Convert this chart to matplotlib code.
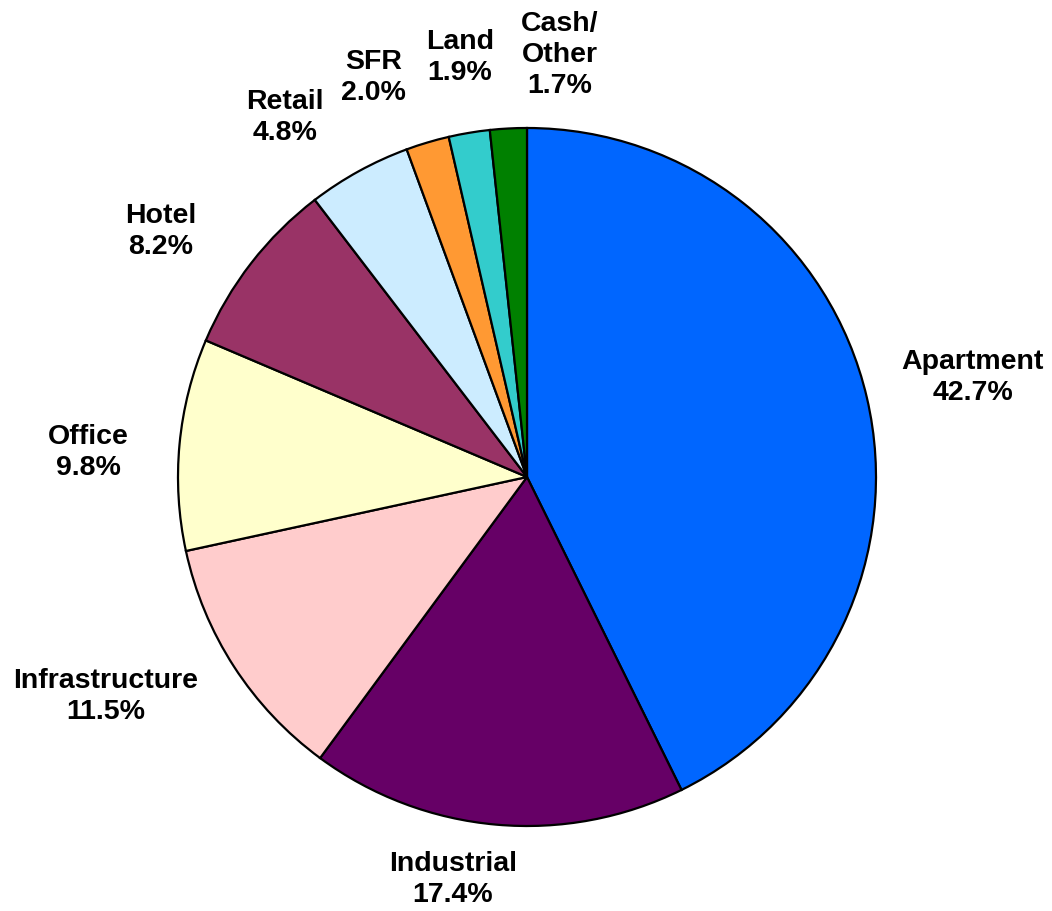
import matplotlib.pyplot as plt
import numpy as np

plt.rcParams['font.family'] = ['Liberation Sans', 'DejaVu Sans']

categories = ["Apartment", "Industrial", "Infrastructure", "Office", "Hotel",
              "Retail", "SFR", "Land", "Cash/\nOther"]
shares = [42.7, 17.4, 11.5, 9.8, 8.2, 4.8, 2.0, 1.9, 1.7]
colors = ["#0066FF", "#660066", "#FFCCCC", "#FFFFCC", "#993366",
          "#CCECFF", "#FF9933", "#33CCCC", "#008000"]

# label placement: distance from centre (in radii) and angle nudge (deg)
label_dist = [1.31, 1.17, 1.36, 1.26, 1.265, 1.245, 1.23, 1.22, 1.215]
label_nudge = [-0.4, -5.4, -5.5, 2.1, 3.8, 5.1, 4.4, -0.5, -7.5]

W, H = 1052, 912
cx, cy, rad = 527, 478, 349

fig = plt.figure(figsize=(W / 100, H / 100), dpi=100)
ax = fig.add_axes([0, 0, 1, 1])

wedges, _ = ax.pie(shares, colors=colors, startangle=90, counterclock=False,
                   radius=1.0, wedgeprops=dict(edgecolor="black", linewidth=1.6))

for w, name, val, d, nudge in zip(wedges, categories, shares, label_dist, label_nudge):
    mid = np.radians((w.theta1 + w.theta2) / 2 + nudge)
    ax.text(d * np.cos(mid), d * np.sin(mid), "{}\n{:.1f}%".format(name, val),
            ha="center", va="center", fontsize=20.5, fontweight="bold",
            linespacing=1.25)

ax.set_xlim(-cx / rad, (W - cx) / rad)
ax.set_ylim(-(H - cy) / rad, cy / rad)
ax.set_aspect("auto")
ax.axis("off")

plt.savefig("out.png", dpi=100)
